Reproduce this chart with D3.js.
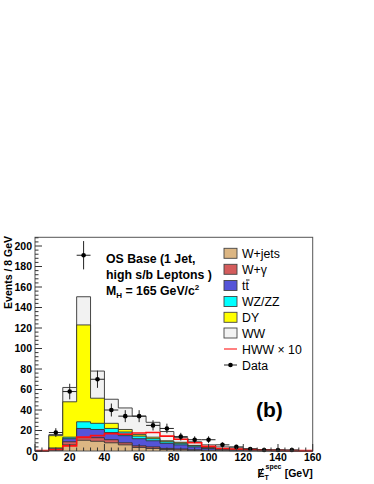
<!DOCTYPE html>
<html>
<head>
<meta charset="utf-8">
<script src="https://cdn.jsdelivr.net/npm/d3@7"></script>
<style>
  body { margin: 0; background: white; }
  svg { display: block; font-family: "Liberation Sans", Arial, Helvetica, sans-serif; }
</style>
</head>
<body>
<div id="chart"></div>
<script>
// Bin lower edges (8 GeV bins, 0-160)
const binEdges = [0, 8, 16, 24, 32, 40, 48, 56, 64, 72, 80, 88, 96, 104, 112, 120, 128, 136, 144, 152];
const binWidth = 8;

// Background contributions per bin (not cumulative)
const wjets  = [0, 0.5, 6, 10.5, 9.5, 8, 6, 3.5, 2.5, 1.5, 1, 0.5, 0.3, 0.2, 0.1, 0.1, 0, 0, 0, 0];
const wgamma = [0, 0.7, 3, 2.5, 3.5, 3, 2, 1.5, 1.5, 1, 1, 0.7, 0.5, 0.3, 0.2, 0.1, 0.1, 0.1, 0, 0];
const ttbar  = [0, 1, 3, 9, 8, 7, 7, 7, 6, 5, 4, 2.8, 1.7, 1, 0.7, 0.4, 0.3, 0.2, 0.2, 0.1];
const wzzz   = [0, 0.8, 1.5, 6.5, 6, 4, 3.5, 2.5, 2, 1.5, 1.5, 1, 0.5, 0.5, 0.3, 0.2, 0.1, 0, 0, 0];
const dy     = [0, 12, 34.5, 94.5, 24.5, 5, 2.5, 1.5, 1.5, 1, 1, 0.5, 0.3, 0.2, 0.1, 0.1, 0, 0, 0, 0];
const ww     = [0, 1, 14, 27.5, 26.5, 23.5, 21, 18, 14.5, 9, 4.5, 3.5, 2.7, 1.8, 1.6, 1.1, 0.7, 0.5, 0.3, 0.2];

// Signal HWW x 10
const hww = [0.5, 1.5, 5, 13.5, 15, 17, 16.5, 17.5, 18, 14.5, 11.5, 8, 4.5, 2.5, 2, 1.5, 1, 0.8, 0.5, 0.4];

// Data
const dataX = [12, 20, 28, 36, 44, 52, 60, 68, 76, 84, 92, 100, 108, 116, 124, 132, 140, 148];
const dataY = [18, 58, 191, 70, 40, 34, 34, 25, 22, 14, 11, 11, 6, 4, 2, 1, 1, 1];

const keys = ["wjets", "wgamma", "ttbar", "wzzz", "dy", "ww"];
const labels = {wjets: "W+jets", wgamma: "W+\u03b3", ttbar: "tt", wzzz: "WZ/ZZ", dy: "DY", ww: "WW"};
const colors = {wjets: "#dcb683", wgamma: "#d45c5c", ttbar: "#5454d8", wzzz: "#00ffff", dy: "#ffff00", ww: "#f2f2f2"};

const width = 374, height = 484;
const svg = d3.select("#chart").append("svg")
    .attr("width", width)
    .attr("height", height);

const x = d3.scaleLinear().domain([0, 160]).range([35, 312.7]);
const y = d3.scaleLinear().domain([0, 208.5]).range([451, 237.3]);

// stacked table
const table = binEdges.map((e, i) => ({
    edge: e, wjets: wjets[i], wgamma: wgamma[i], ttbar: ttbar[i],
    wzzz: wzzz[i], dy: dy[i], ww: ww[i]
}));
const series = d3.stack().keys(keys)(table);

// step helper: add a closing point at the right edge
function stepPoints(vals) {
    const pts = binEdges.map((e, i) => [e, vals[i]]);
    pts.push([binEdges[binEdges.length - 1] + binWidth, vals[vals.length - 1]]);
    return pts;
}

const area = d3.area()
    .x(d => x(d[0]))
    .y0(y(0))
    .y1(d => y(d[1]))
    .curve(d3.curveStepAfter);
const line = d3.line()
    .x(d => x(d[0]))
    .y(d => y(d[1]))
    .curve(d3.curveStepAfter);

// Draw stacks from the top layer down
const plot = svg.append("g");
series.slice().reverse().forEach(s => {
    const tops = s.map(d => d[1]);
    const pts = stepPoints(tops);
    plot.append("path")
        .attr("d", area(pts))
        .attr("fill", colors[s.key]);
    plot.append("path")
        .attr("d", line(pts))
        .attr("fill", "none")
        .attr("stroke", "#333")
        .attr("stroke-width", 0.9);
});

// HWW x 10 line
plot.append("path")
    .attr("d", line(stepPoints(hww)))
    .attr("fill", "none")
    .attr("stroke", "#ff1010")
    .attr("stroke-width", 1.6);

// Data points
const pts = svg.append("g");
dataX.forEach((dx, i) => {
    const v = dataY[i], err = Math.sqrt(v);
    pts.append("line")
        .attr("x1", x(dx)).attr("x2", x(dx))
        .attr("y1", y(Math.max(v - err, 0))).attr("y2", y(v + err))
        .attr("stroke", "#222").attr("stroke-width", 1);
    pts.append("line")
        .attr("x1", x(dx - binWidth / 2)).attr("x2", x(dx + binWidth / 2))
        .attr("y1", y(v)).attr("y2", y(v))
        .attr("stroke", "#222").attr("stroke-width", 1);
    pts.append("circle")
        .attr("cx", x(dx)).attr("cy", y(v)).attr("r", 2.3)
        .attr("fill", "black");
});

// Frame
svg.append("rect")
    .attr("x", 35).attr("y", 237.3)
    .attr("width", 312.7 - 35).attr("height", 451 - 237.3)
    .attr("fill", "none").attr("stroke", "#555").attr("stroke-width", 1);

// Axes (ticks drawn inside the frame, ROOT style)
const yMajor = d3.range(0, 201, 20);
const yMinor = d3.range(0, 209, 4).filter(v => v % 20 !== 0);
const xMajor = d3.range(0, 161, 20);
const xMinor = d3.range(0, 161, 4).filter(v => v % 20 !== 0);

const axes = svg.append("g").attr("stroke", "#333").attr("stroke-width", 1);
yMajor.forEach(v => axes.append("line").attr("x1", 35).attr("x2", 42).attr("y1", y(v)).attr("y2", y(v)));
yMinor.forEach(v => axes.append("line").attr("x1", 35).attr("x2", 38.5).attr("y1", y(v)).attr("y2", y(v)));
xMajor.forEach(v => axes.append("line").attr("x1", x(v)).attr("x2", x(v)).attr("y1", 451).attr("y2", 444));
xMinor.forEach(v => axes.append("line").attr("x1", x(v)).attr("x2", x(v)).attr("y1", 451).attr("y2", 447.5));

svg.append("g").selectAll("text").data(yMajor).join("text")
    .attr("x", 32).attr("y", d => y(d) + 3.8)
    .attr("text-anchor", "end")
    .attr("font-size", 10.5).attr("font-weight", "bold")
    .text(d => d);

svg.append("g").selectAll("text").data(xMajor).join("text")
    .attr("x", d => x(d)).attr("y", 461)
    .attr("text-anchor", "middle")
    .attr("font-size", 10.5).attr("font-weight", "bold")
    .text(d => d);

// Y title
svg.append("text")
    .attr("transform", "translate(12,236) rotate(-90)")
    .attr("text-anchor", "end")
    .attr("font-size", 10.5).attr("font-weight", "bold")
    .text("Events / 8 GeV");

// X title: missing ET spec [GeV]
const xt = svg.append("g").attr("font-weight", "bold");
xt.append("text").attr("x", 257.5).attr("y", 477).attr("font-size", 10.5).text("E");
xt.append("line").attr("x1", 258.5).attr("x2", 263).attr("y1", 478).attr("y2", 468)
    .attr("stroke", "black").attr("stroke-width", 1);
xt.append("text").attr("x", 264.5).attr("y", 480).attr("font-size", 7).text("T");
xt.append("text").attr("x", 265.5).attr("y", 469).attr("font-size", 7).text("spec");
xt.append("text").attr("x", 312.7).attr("y", 477).attr("text-anchor", "end").attr("font-size", 10.5).text("[GeV]");

// Annotation
const ann = svg.append("g").attr("font-size", 12.3).attr("font-weight", "bold");
ann.append("text").attr("x", 106).attr("y", 262.8).text("OS Base (1 Jet,");
ann.append("text").attr("x", 106).attr("y", 278.8).text("high s/b Leptons )");
const mh = ann.append("text").attr("x", 106).attr("y", 295.2);
mh.append("tspan").text("M");
mh.append("tspan").attr("font-size", 8).attr("dy", 3).text("H");
mh.append("tspan").attr("dy", -3).text(" = 165 GeV/c");
mh.append("tspan").attr("font-size", 8).attr("dy", -5).text("2");

svg.append("text")
    .attr("x", 256).attr("y", 416.5)
    .attr("font-size", 21).attr("font-weight", "bold")
    .text("(b)");

// Legend
const legY = [253.3, 269.3, 285.5, 301.5, 317.3, 333, 349, 365];
const leg = svg.append("g").attr("font-size", 12.3);
keys.forEach((k, i) => {
    leg.append("rect")
        .attr("x", 224).attr("y", legY[i] - 5).attr("width", 13).attr("height", 10)
        .attr("fill", colors[k]).attr("stroke", "#444").attr("stroke-width", 0.9);
    leg.append("text").attr("x", 242).attr("y", legY[i] + 4.5).text(labels[k]);
});
// bar over second t
leg.append("line").attr("x1", 246).attr("x2", 249.5)
    .attr("y1", legY[2] - 5.5).attr("y2", legY[2] - 5.5)
    .attr("stroke", "black").attr("stroke-width", 0.9);

leg.append("line").attr("x1", 224).attr("x2", 237).attr("y1", legY[6]).attr("y2", legY[6])
    .attr("stroke", "#ff6060").attr("stroke-width", 1.6);
leg.append("text").attr("x", 242).attr("y", legY[6] + 4.5).text("HWW \u00d7 10");

leg.append("line").attr("x1", 224).attr("x2", 237).attr("y1", legY[7]).attr("y2", legY[7])
    .attr("stroke", "#222").attr("stroke-width", 1);
leg.append("circle").attr("cx", 230.5).attr("cy", legY[7]).attr("r", 2.3).attr("fill", "black");
leg.append("text").attr("x", 242).attr("y", legY[7] + 4.5).text("Data");
</script>
</body>
</html>
